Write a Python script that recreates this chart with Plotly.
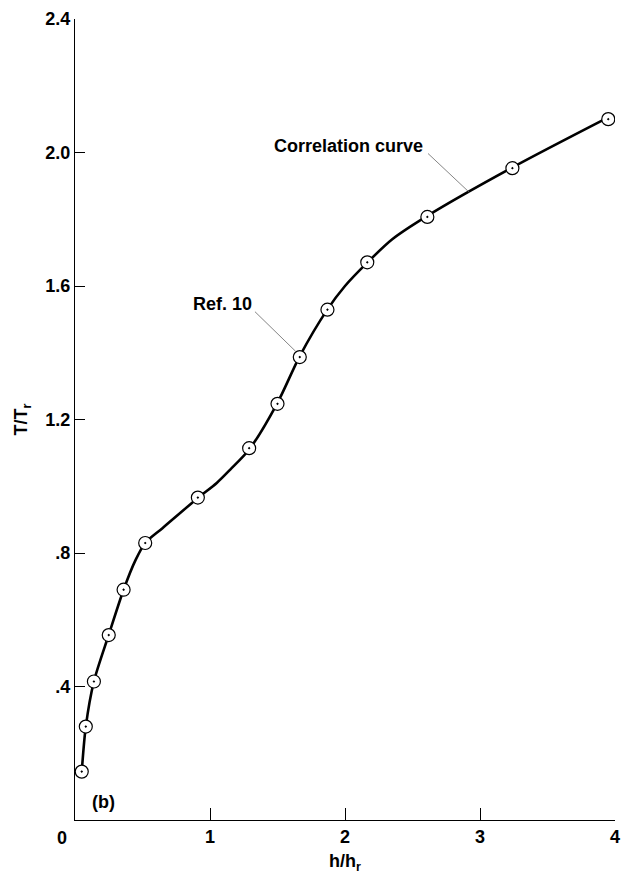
import plotly.graph_objects as go

# Ref. 10 data points (h/h_r, T/T_r)
ref_h = [0.05, 0.08, 0.14, 0.25, 0.36, 0.52, 0.91, 1.29, 1.50, 1.665, 1.87, 2.165, 2.61, 3.24, 3.95]
ref_T = [0.145, 0.28, 0.415, 0.554, 0.69, 0.83, 0.966, 1.114, 1.247, 1.387, 1.529, 1.671, 1.807, 1.953, 2.10]

# Correlation curve
curve_h = [0.05, 0.08, 0.14, 0.25, 0.36, 0.45, 0.52, 0.65, 0.91, 1.05, 1.15, 1.29, 1.50, 1.665, 1.87, 2.00, 2.165, 2.35, 2.61, 3.24, 3.95]
curve_T = [0.145, 0.28, 0.415, 0.555, 0.69, 0.78, 0.83, 0.875, 0.965, 1.01, 1.05, 1.11, 1.25, 1.39, 1.53, 1.60, 1.67, 1.74, 1.81, 1.955, 2.105]

x_ticks = [1, 2, 3, 4]
x_ticktext = ["1", "2", "3", "4"]
y_ticks = [0.4, 0.8, 1.2, 1.6, 2.0, 2.4]
y_ticktext = [".4", ".8", "1.2", "1.6", "2.0", "2.4"]

FONT = "Liberation Sans"
FS = 18

fig = go.Figure()
fig.add_trace(go.Scatter(
    x=curve_h, y=curve_T, mode="lines",
    line=dict(color="black", width=2.6, shape="spline", smoothing=0.8),
    showlegend=False, hoverinfo="skip"))
fig.add_trace(go.Scatter(
    x=ref_h, y=ref_T, mode="markers",
    marker=dict(symbol="circle-dot", size=13, color="white",
                line=dict(color="black", width=1.2)),
    showlegend=False))

tickfont = dict(family=FONT, size=FS, color="black", weight="bold")
textfont = dict(family=FONT, size=FS, color="black", weight="bold")

fig.update_layout(
    width=629, height=876,
    margin=dict(l=75, r=9, t=10, b=55),
    paper_bgcolor="white", plot_bgcolor="white",
    font=dict(family=FONT, color="black"),
    xaxis=dict(range=[0, 4], showgrid=False, zeroline=False,
               showline=True, linecolor="black", linewidth=1.3,
               ticks="inside", ticklen=12, tickwidth=1.3, tickcolor="black",
               tickvals=x_ticks, ticktext=x_ticktext, tickfont=tickfont,
               title=dict(text="h/h<sub>r</sub>", font=textfont, standoff=8)),
    yaxis=dict(range=[0, 2.4], showgrid=False, zeroline=False,
               showline=True, linecolor="black", linewidth=1.3,
               ticks="inside", ticklen=10, tickwidth=1.3, tickcolor="black",
               tickvals=y_ticks, ticktext=y_ticktext, tickfont=tickfont,
               title=dict(text="T/T<sub>r</sub>", font=textfont, standoff=12)),
    annotations=[
        dict(x=0, y=0, xref="x", yref="y", text="0", showarrow=False,
             xshift=-13, yshift=-18, font=tickfont),
        dict(x=1.09, y=1.547, xref="x", yref="y", text="Ref. 10", showarrow=False,
             font=textfont),
        dict(x=2.026, y=2.02, xref="x", yref="y", text="Correlation curve", showarrow=False,
             font=textfont),
        dict(x=0.21, y=0.053, xref="x", yref="y", text="(b)", showarrow=False,
             font=textfont),
    ],
    shapes=[
        dict(type="line", xref="x", yref="y", x0=1.333, y0=1.523, x1=1.635, y1=1.404,
             line=dict(color="#666666", width=0.8)),
        dict(type="line", xref="x", yref="y", x0=2.615, y0=1.997, x1=2.925, y1=1.879,
             line=dict(color="#666666", width=0.8)),
    ],
)

fig.write_html("out.html", config={"displayModeBar": False},
               post_script="document.body.style.margin='0px';")
